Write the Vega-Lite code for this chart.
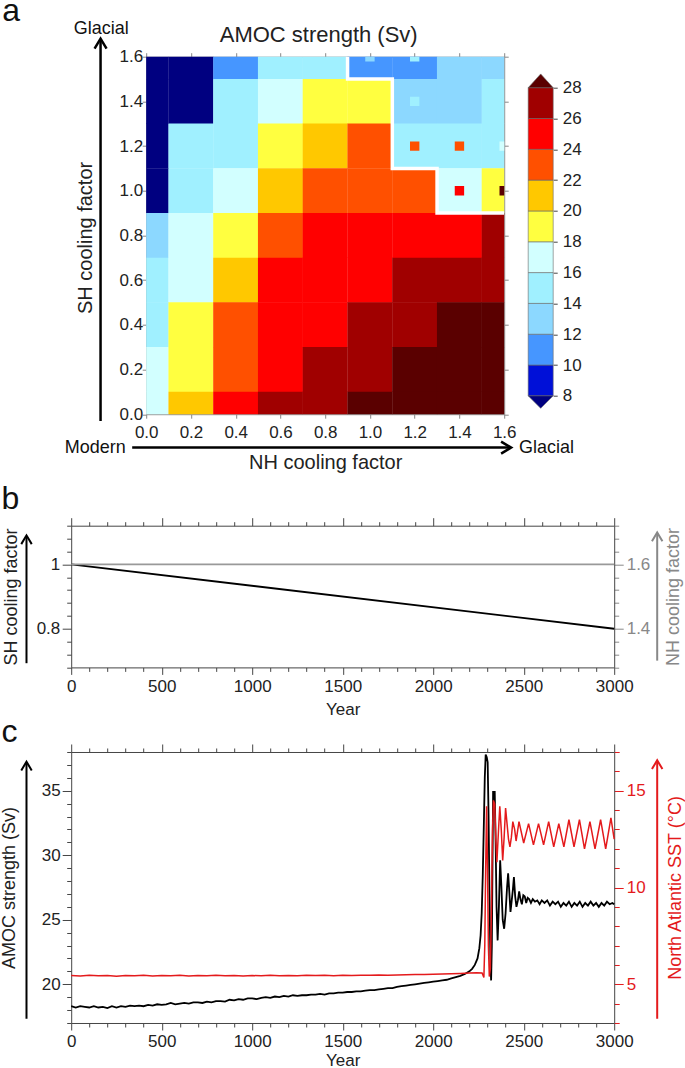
{
"$schema": "https://vega.github.io/schema/vega-lite/v6.json",
"background": "white",
"padding": {"left": 0.2, "top": -5.3, "right": 0, "bottom": 1},
"spacing": 9,
"datasets": {
"cells": [
{"nh":0,"sh":1.6,"amoc":7},{"nh":0.2,"sh":1.6,"amoc":7},{"nh":0.4,"sh":1.6,"amoc":11},{"nh":0.6,"sh":1.6,"amoc":15},{"nh":0.8,"sh":1.6,"amoc":15},{"nh":1,"sh":1.6,"amoc":11},{"nh":1.2,"sh":1.6,"amoc":11},{"nh":1.4,"sh":1.6,"amoc":13},{"nh":1.6,"sh":1.6,"amoc":13},
{"nh":0,"sh":1.4,"amoc":7},{"nh":0.2,"sh":1.4,"amoc":7},{"nh":0.4,"sh":1.4,"amoc":15},{"nh":0.6,"sh":1.4,"amoc":17},{"nh":0.8,"sh":1.4,"amoc":19},{"nh":1,"sh":1.4,"amoc":19},{"nh":1.2,"sh":1.4,"amoc":13},{"nh":1.4,"sh":1.4,"amoc":13},{"nh":1.6,"sh":1.4,"amoc":15},
{"nh":0,"sh":1.2,"amoc":7},{"nh":0.2,"sh":1.2,"amoc":15},{"nh":0.4,"sh":1.2,"amoc":15},{"nh":0.6,"sh":1.2,"amoc":19},{"nh":0.8,"sh":1.2,"amoc":21},{"nh":1,"sh":1.2,"amoc":23},{"nh":1.2,"sh":1.2,"amoc":15},{"nh":1.4,"sh":1.2,"amoc":15},{"nh":1.6,"sh":1.2,"amoc":15},
{"nh":0,"sh":1,"amoc":7},{"nh":0.2,"sh":1,"amoc":15},{"nh":0.4,"sh":1,"amoc":17},{"nh":0.6,"sh":1,"amoc":21},{"nh":0.8,"sh":1,"amoc":23},{"nh":1,"sh":1,"amoc":23},{"nh":1.2,"sh":1,"amoc":23},{"nh":1.4,"sh":1,"amoc":17},{"nh":1.6,"sh":1,"amoc":19},
{"nh":0,"sh":0.8,"amoc":13},{"nh":0.2,"sh":0.8,"amoc":17},{"nh":0.4,"sh":0.8,"amoc":19},{"nh":0.6,"sh":0.8,"amoc":23},{"nh":0.8,"sh":0.8,"amoc":25},{"nh":1,"sh":0.8,"amoc":25},{"nh":1.2,"sh":0.8,"amoc":25},{"nh":1.4,"sh":0.8,"amoc":25},{"nh":1.6,"sh":0.8,"amoc":27},
{"nh":0,"sh":0.6,"amoc":15},{"nh":0.2,"sh":0.6,"amoc":17},{"nh":0.4,"sh":0.6,"amoc":21},{"nh":0.6,"sh":0.6,"amoc":25},{"nh":0.8,"sh":0.6,"amoc":25},{"nh":1,"sh":0.6,"amoc":25},{"nh":1.2,"sh":0.6,"amoc":27},{"nh":1.4,"sh":0.6,"amoc":27},{"nh":1.6,"sh":0.6,"amoc":27},
{"nh":0,"sh":0.4,"amoc":15},{"nh":0.2,"sh":0.4,"amoc":19},{"nh":0.4,"sh":0.4,"amoc":23},{"nh":0.6,"sh":0.4,"amoc":25},{"nh":0.8,"sh":0.4,"amoc":25},{"nh":1,"sh":0.4,"amoc":27},{"nh":1.2,"sh":0.4,"amoc":27},{"nh":1.4,"sh":0.4,"amoc":29},{"nh":1.6,"sh":0.4,"amoc":29},
{"nh":0,"sh":0.2,"amoc":17},{"nh":0.2,"sh":0.2,"amoc":19},{"nh":0.4,"sh":0.2,"amoc":23},{"nh":0.6,"sh":0.2,"amoc":25},{"nh":0.8,"sh":0.2,"amoc":27},{"nh":1,"sh":0.2,"amoc":27},{"nh":1.2,"sh":0.2,"amoc":29},{"nh":1.4,"sh":0.2,"amoc":29},{"nh":1.6,"sh":0.2,"amoc":29},
{"nh":0,"sh":0,"amoc":17},{"nh":0.2,"sh":0,"amoc":21},{"nh":0.4,"sh":0,"amoc":25},{"nh":0.6,"sh":0,"amoc":27},{"nh":0.8,"sh":0,"amoc":27},{"nh":1,"sh":0,"amoc":29},{"nh":1.2,"sh":0,"amoc":29},{"nh":1.4,"sh":0,"amoc":29},{"nh":1.6,"sh":0,"amoc":29}
],
"alt": [
{"nh":1,"sh":1.6,"amoc":13},{"nh":1.2,"sh":1.6,"amoc":15},{"nh":1.2,"sh":1.4,"amoc":15},{"nh":1.2,"sh":1.2,"amoc":23},{"nh":1.4,"sh":1.2,"amoc":23},{"nh":1.6,"sh":1.2,"amoc":17},{"nh":1.4,"sh":1,"amoc":25},{"nh":1.6,"sh":1,"amoc":29}
],
"boundary": [
{"i":0,"nh":0.9,"sh":1.6},{"i":1,"nh":0.9,"sh":1.5},{"i":2,"nh":1.1,"sh":1.5},{"i":3,"nh":1.1,"sh":1.1},{"i":4,"nh":1.3,"sh":1.1},{"i":5,"nh":1.3,"sh":0.9},{"i":6,"nh":1.6,"sh":0.9}
],
"bins": [
{"lo":8,"hi":10,"amoc":9},{"lo":10,"hi":12,"amoc":11},{"lo":12,"hi":14,"amoc":13},{"lo":14,"hi":16,"amoc":15},{"lo":16,"hi":18,"amoc":17},{"lo":18,"hi":20,"amoc":19},{"lo":20,"hi":22,"amoc":21},{"lo":22,"hi":24,"amoc":23},{"lo":24,"hi":26,"amoc":25},{"lo":26,"hi":28,"amoc":27}
],
"shline": [{"year":0,"f":1},{"year":3000,"f":0.8}],
"nhline": [{"year":0,"f":1.6},{"year":3000,"f":1.6}],
"amoc": [
{"year":0,"v":18.3},{"year":25,"v":18.2},{"year":50,"v":18.3},{"year":75,"v":18.25},{"year":100,"v":18.2},{"year":125,"v":18.3},{"year":150,"v":18.2},{"year":175,"v":18.25},{"year":200,"v":18.15},{"year":225,"v":18.3},{"year":250,"v":18.2},{"year":275,"v":18.3},{"year":300,"v":18.25},{"year":325,"v":18.35},{"year":350,"v":18.3},{"year":375,"v":18.35},{"year":400,"v":18.3},{"year":425,"v":18.4},{"year":450,"v":18.35},{"year":475,"v":18.45},{"year":500,"v":18.4},{"year":525,"v":18.45},{"year":550,"v":18.55},{"year":575,"v":18.45},{"year":600,"v":18.5},{"year":625,"v":18.55},{"year":650,"v":18.5},{"year":675,"v":18.6},{"year":700,"v":18.6},{"year":725,"v":18.55},{"year":750,"v":18.65},{"year":775,"v":18.6},{"year":800,"v":18.7},{"year":825,"v":18.7},{"year":850,"v":18.65},{"year":875,"v":18.8},{"year":900,"v":18.75},{"year":925,"v":18.85},{"year":950,"v":18.8},{"year":975,"v":18.9},{"year":1000,"v":18.9},{"year":1025,"v":18.85},{"year":1050,"v":18.95},{"year":1075,"v":19.0},{"year":1100,"v":18.95},{"year":1125,"v":19.05},{"year":1150,"v":19.0},{"year":1175,"v":19.1},{"year":1200,"v":19.05},{"year":1225,"v":19.15},{"year":1250,"v":19.1},{"year":1275,"v":19.15},{"year":1300,"v":19.15},{"year":1325,"v":19.2},{"year":1350,"v":19.2},{"year":1375,"v":19.25},{"year":1400,"v":19.2},{"year":1425,"v":19.3},{"year":1450,"v":19.3},{"year":1475,"v":19.35},{"year":1500,"v":19.35},{"year":1525,"v":19.4},{"year":1550,"v":19.4},{"year":1575,"v":19.45},{"year":1600,"v":19.45},{"year":1625,"v":19.5},{"year":1650,"v":19.55},{"year":1675,"v":19.55},{"year":1700,"v":19.6},{"year":1725,"v":19.65},{"year":1750,"v":19.7},{"year":1775,"v":19.7},{"year":1800,"v":19.8},{"year":1825,"v":19.85},{"year":1850,"v":19.9},{"year":1875,"v":19.95},{"year":1900,"v":20.0},{"year":1925,"v":20.05},{"year":1950,"v":20.1},{"year":1975,"v":20.15},{"year":2000,"v":20.2},{"year":2025,"v":20.25},{"year":2050,"v":20.3},{"year":2075,"v":20.35},{"year":2100,"v":20.45},{"year":2125,"v":20.55},{"year":2150,"v":20.65},{"year":2175,"v":20.8},{"year":2200,"v":21.0},{"year":2215,"v":21.2},{"year":2230,"v":21.5},{"year":2245,"v":22.0},{"year":2255,"v":22.8},{"year":2262,"v":23.8},{"year":2268,"v":25.5},{"year":2274,"v":28.5},{"year":2280,"v":32.5},{"year":2285,"v":36},{"year":2290,"v":37.8},{"year":2296,"v":37.6},{"year":2301,"v":37.2},{"year":2306,"v":33},{"year":2311,"v":27},{"year":2316,"v":22},{"year":2320,"v":20.3},{"year":2324,"v":23},{"year":2328,"v":30},{"year":2331,"v":34.9},{"year":2340,"v":34.9},{"year":2345,"v":31},{"year":2350,"v":26},{"year":2356,"v":23.4},{"year":2363,"v":26},{"year":2370,"v":29.6},{"year":2377,"v":27.5},{"year":2384,"v":25},{"year":2392,"v":24.3},{"year":2400,"v":25.5},{"year":2408,"v":27.5},{"year":2414,"v":28.6},{"year":2420,"v":27.3},{"year":2427,"v":25.6},{"year":2434,"v":26.5},{"year":2440,"v":27.3},{"year":2446,"v":28.3},{"year":2453,"v":26.8},{"year":2460,"v":26.0},{"year":2468,"v":26.5},{"year":2475,"v":27.2},{"year":2482,"v":26.6},{"year":2490,"v":26.2},{"year":2498,"v":26.9},{"year":2506,"v":26.8},{"year":2514,"v":26.3},{"year":2522,"v":26.7},{"year":2530,"v":26.6},{"year":2540,"v":26.3},{"year":2550,"v":26.6},{"year":2562,"v":26.4},{"year":2575,"v":26.5},{"year":2588,"v":26.2},{"year":2600,"v":26.5},{"year":2615,"v":26.3},{"year":2630,"v":26.5},{"year":2645,"v":26.1},{"year":2660,"v":26.4},{"year":2675,"v":26.2},{"year":2690,"v":26.4},{"year":2705,"v":26.0},{"year":2720,"v":26.3},{"year":2735,"v":26.1},{"year":2750,"v":26.4},{"year":2765,"v":26.0},{"year":2780,"v":26.3},{"year":2795,"v":26.1},{"year":2810,"v":26.4},{"year":2825,"v":26.0},{"year":2840,"v":26.3},{"year":2855,"v":26.1},{"year":2870,"v":26.4},{"year":2885,"v":26.1},{"year":2900,"v":26.3},{"year":2915,"v":26.0},{"year":2930,"v":26.3},{"year":2945,"v":26.1},{"year":2960,"v":26.4},{"year":2975,"v":26.2},{"year":2990,"v":26.3},{"year":3000,"v":26.2}
],
"sst": [
{"year":0,"t":5.45},{"year":50,"t":5.43},{"year":100,"t":5.46},{"year":150,"t":5.44},{"year":200,"t":5.45},{"year":250,"t":5.42},{"year":300,"t":5.45},{"year":350,"t":5.44},{"year":400,"t":5.46},{"year":450,"t":5.43},{"year":500,"t":5.45},{"year":550,"t":5.44},{"year":600,"t":5.46},{"year":650,"t":5.43},{"year":700,"t":5.45},{"year":750,"t":5.44},{"year":800,"t":5.46},{"year":850,"t":5.44},{"year":900,"t":5.45},{"year":950,"t":5.43},{"year":1000,"t":5.45},{"year":1050,"t":5.44},{"year":1100,"t":5.46},{"year":1150,"t":5.44},{"year":1200,"t":5.45},{"year":1250,"t":5.44},{"year":1300,"t":5.46},{"year":1350,"t":5.45},{"year":1400,"t":5.46},{"year":1450,"t":5.44},{"year":1500,"t":5.46},{"year":1550,"t":5.45},{"year":1600,"t":5.47},{"year":1650,"t":5.46},{"year":1700,"t":5.48},{"year":1750,"t":5.47},{"year":1800,"t":5.48},{"year":1850,"t":5.49},{"year":1900,"t":5.5},{"year":1950,"t":5.5},{"year":2000,"t":5.52},{"year":2050,"t":5.53},{"year":2100,"t":5.54},{"year":2150,"t":5.56},{"year":2200,"t":5.58},{"year":2240,"t":5.6},{"year":2270,"t":5.58},{"year":2280,"t":5.35},{"year":2285,"t":7},{"year":2290,"t":11},{"year":2295,"t":14.2},{"year":2300,"t":11},{"year":2305,"t":7},{"year":2310,"t":5.4},{"year":2316,"t":5.8},{"year":2322,"t":9},{"year":2328,"t":13},{"year":2333,"t":14.5},{"year":2340,"t":14.3},{"year":2346,"t":12.5},{"year":2352,"t":11.3},{"year":2360,"t":12.8},{"year":2368,"t":14.2},{"year":2376,"t":13},{"year":2384,"t":11.4},{"year":2392,"t":12.6},{"year":2400,"t":14.1},{"year":2408,"t":13.3},{"year":2416,"t":12.5},{"year":2424,"t":12.1},{"year":2432,"t":12.6},{"year":2440,"t":13.4},{"year":2450,"t":13.0},{"year":2458,"t":12.4},{"year":2474,"t":13.4},{"year":2500,"t":12.3},{"year":2527,"t":13.3},{"year":2554,"t":12.2},{"year":2582,"t":13.3},{"year":2610,"t":12.2},{"year":2638,"t":13.4},{"year":2666,"t":12.1},{"year":2694,"t":13.3},{"year":2722,"t":12.1},{"year":2750,"t":13.5},{"year":2778,"t":12.1},{"year":2808,"t":13.5},{"year":2836,"t":12.0},{"year":2866,"t":13.4},{"year":2894,"t":12.0},{"year":2925,"t":13.5},{"year":2953,"t":12.0},{"year":2982,"t":13.6},{"year":3000,"t":12.5}
]
},
"vconcat": [
{
"hconcat": [
{"width": 50.3, "height": 10, "data": {"values": [{}]}, "mark": {"type": "point", "opacity": 0}},
{
"width": 358, "height": 357.5,
"layer": [
{"layer": [
{"data": {"name": "cells"}, "mark": {"type": "point", "shape": "square", "size": 2025, "filled": true, "opacity": 1, "strokeWidth": 0, "clip": true},
 "encoding": {
  "x": {"field": "nh", "type": "quantitative", "scale": {"domain": [0, 1.6], "nice": false, "zero": false},
   "axis": {"orient": "bottom", "values": [0,0.2,0.4,0.6,0.8,1,1.2,1.4,1.6], "tickCount": 100, "format": ".1f", "tickSize": 4, "labelPadding": 6, "labelOverlap": false, "labelFlush": false, "domainColor": "#888", "tickColor": "#888", "title": "NH cooling factor", "titleFontSize": 20, "titleX": 179, "titleY": 54.7, "titleBaseline": "alphabetic", "titleAlign": "center"}},
  "y": {"field": "sh", "type": "quantitative", "scale": {"domain": [0, 1.6], "nice": false, "zero": false},
   "axis": {"orient": "left", "values": [0,0.2,0.4,0.6,0.8,1,1.2,1.4,1.6], "tickCount": 100, "format": ".1f", "tickSize": 4, "labelPadding": -0.5, "labelOverlap": false, "labelFlush": false, "domainColor": "#888", "tickColor": "#888", "title": "SH cooling factor", "titleFontSize": 20, "titleX": -60.6, "titleY": 180.7, "titleAngle": -90, "titleBaseline": "middle", "titleAlign": "center"}},
  "color": {"field": "amoc", "type": "quantitative", "scale": {"type": "threshold", "domain": [8,10,12,14,16,18,20,22,24,26,28], "range": ["#000080","#0010d8","#4696ff","#8cd8ff","#a0f0ff","#d2ffff","#ffff40","#ffc800","#ff5000","#ff0000","#a00000","#5a0000"]}, "legend": null}
 }},
{"data": {"name": "alt"}, "mark": {"type": "point", "shape": "square", "size": 88, "filled": true, "opacity": 1, "strokeWidth": 0, "clip": true},
 "encoding": {"x": {"field": "nh", "type": "quantitative"}, "y": {"field": "sh", "type": "quantitative"},
  "color": {"field": "amoc", "type": "quantitative", "scale": {"type": "threshold", "domain": [8,10,12,14,16,18,20,22,24,26,28], "range": ["#000080","#0010d8","#4696ff","#8cd8ff","#a0f0ff","#d2ffff","#ffff40","#ffc800","#ff5000","#ff0000","#a00000","#5a0000"]}, "legend": null}}},
{"data": {"name": "boundary"}, "mark": {"type": "line", "color": "white", "strokeWidth": 3.5, "clip": true},
 "encoding": {"x": {"field": "nh", "type": "quantitative"}, "y": {"field": "sh", "type": "quantitative"}, "order": {"field": "i"}}},
{"data": {"values": [{}]}, "mark": {"type": "rule", "color": "#000", "strokeWidth": 2.5},
 "encoding": {"x": {"datum": -0.204, "type": "quantitative"}, "y": {"datum": -0.03, "type": "quantitative"}, "y2": {"datum": 1.675}}},
{"data": {"values": [{}]}, "mark": {"type": "point", "shape": "M-1,1.67L0,0L1,1.67", "size": 144, "filled": false, "opacity": 1, "color": "#000", "strokeWidth": 2.5},
 "encoding": {"x": {"datum": -0.204, "type": "quantitative"}, "y": {"datum": 1.681, "type": "quantitative"}}},
{"data": {"values": [{}]}, "mark": {"type": "rule", "color": "#000", "strokeWidth": 2.5},
 "encoding": {"x": {"datum": -0.0626, "type": "quantitative"}, "x2": {"datum": 1.628}, "y": {"datum": -0.1496, "type": "quantitative"}}},
{"data": {"values": [{}]}, "mark": {"type": "point", "shape": "M-1.67,-1L0,0L-1.67,1", "size": 144, "filled": false, "opacity": 1, "color": "#000", "strokeWidth": 2.5},
 "encoding": {"x": {"datum": 1.631, "type": "quantitative"}, "y": {"datum": -0.1496, "type": "quantitative"}}},
{"data": {"values": [{}]}, "mark": {"type": "text", "text": "Glacial", "fontSize": 18, "align": "center", "baseline": "middle", "color": "#111"},
 "encoding": {"x": {"datum": -0.201, "type": "quantitative"}, "y": {"datum": 1.7255, "type": "quantitative"}}},
{"data": {"values": [{}]}, "mark": {"type": "text", "text": "Modern", "fontSize": 18, "align": "right", "baseline": "middle", "color": "#111"},
 "encoding": {"x": {"datum": -0.0916, "type": "quantitative"}, "y": {"datum": -0.15, "type": "quantitative"}}},
{"data": {"values": [{}]}, "mark": {"type": "text", "text": "Glacial", "fontSize": 18, "align": "left", "baseline": "middle", "color": "#111"},
 "encoding": {"x": {"datum": 1.666, "type": "quantitative"}, "y": {"datum": -0.15, "type": "quantitative"}}},
{"data": {"values": [{}]}, "mark": {"type": "text", "text": "a", "fontSize": 32, "align": "left", "baseline": "alphabetic", "color": "#111"},
 "encoding": {"x": {"datum": -0.6436, "type": "quantitative"}, "y": {"datum": 1.758, "type": "quantitative"}}}
]},
{"data": {"values": [{}]}, "mark": {"type": "point", "opacity": 0},
 "encoding": {
  "x": {"datum": 0.8, "type": "quantitative", "axis": {"orient": "top", "values": [0,0.2,0.4,0.6,0.8,1,1.2,1.4,1.6], "tickCount": 100, "labels": false, "tickSize": 4, "domainColor": "#888", "tickColor": "#888", "title": "AMOC strength (Sv)", "titleFontSize": 22, "titleX": 172, "titleY": -15.5, "titleBaseline": "alphabetic", "titleAlign": "center"}},
  "y": {"datum": 0.8, "type": "quantitative", "axis": {"orient": "right", "values": [0,0.2,0.4,0.6,0.8,1,1.2,1.4,1.6], "tickCount": 100, "labels": false, "tickSize": 4, "domainColor": "#888", "tickColor": "#888", "title": null}}
 }}
],
"resolve": {"axis": {"x": "independent", "y": "independent"}}
},
{
"width": 25, "height": 357.5,
"layer": [
{"data": {"name": "bins"}, "mark": {"type": "rect", "stroke": "#666", "strokeWidth": 0.6},
 "encoding": {
  "y": {"field": "lo", "type": "quantitative", "scale": {"domain": [6.81, 30.01], "nice": false, "zero": false},
   "axis": {"orient": "right", "values": [8,10,12,14,16,18,20,22,24,26,28], "tickCount": 100, "format": "d", "tickSize": 4, "labelPadding": 5, "labelOverlap": false, "domain": false, "tickColor": "#444", "title": null}},
  "y2": {"field": "hi"},
  "color": {"field": "amoc", "type": "quantitative", "scale": {"type": "threshold", "domain": [8,10,12,14,16,18,20,22,24,26,28], "range": ["#000080","#0010d8","#4696ff","#8cd8ff","#a0f0ff","#d2ffff","#ffff40","#ffc800","#ff5000","#ff0000","#a00000","#5a0000"]}, "legend": null}
 }},
{"data": {"values": [{}]}, "mark": {"type": "point", "shape": "M-1,0L1,0L0,-1.1Z", "size": 625, "filled": true, "opacity": 1, "color": "#5a0000", "stroke": "#666", "strokeWidth": 0.6},
 "encoding": {"y": {"datum": 28, "type": "quantitative"}}},
{"data": {"values": [{}]}, "mark": {"type": "point", "shape": "M-1,0L1,0L0,1Z", "size": 625, "filled": true, "opacity": 1, "color": "#000080", "stroke": "#666", "strokeWidth": 0.6},
 "encoding": {"y": {"datum": 8, "type": "quantitative"}}}
]
}
],
"spacing": 24,
"bounds": "flush"
},
{
"vconcat": [
{
"width": 543, "height": 141.7,
"layer": [
{"layer": [
{"data": {"name": "shline"}, "mark": {"type": "line", "color": "#000", "strokeWidth": 1.8},
 "encoding": {
  "x": {"field": "year", "type": "quantitative", "scale": {"domain": [0, 3000], "nice": false, "zero": false},
   "axis": {"orient": "bottom", "values": [0,100,200,300,400,500,600,700,800,900,1000,1100,1200,1300,1400,1500,1600,1700,1800,1900,2000,2100,2200,2300,2400,2500,2600,2700,2800,2900,3000], "tickCount": 100, "format": "d", "labelOverlap": false, "labelFlush": false, "labelExpr": "datum.value % 500 === 0 ? datum.label : ''", "tickSize": {"condition": {"test": "datum.value % 500 === 0", "value": 7}, "value": 4}, "labelPadding": 4, "title": "Year", "titleY": 47.2, "titleBaseline": "alphabetic"}},
  "y": {"field": "f", "type": "quantitative", "scale": {"domain": [0.68, 1.12], "nice": false, "zero": false},
   "axis": {"orient": "left", "values": [0.68,0.72,0.76,0.8,0.84,0.88,0.92,0.96,1,1.04,1.08,1.12], "tickCount": 100, "labelOverlap": false, "labelFlush": false, "labelExpr": "datum.value === 0.8 ? '0.8' : (datum.value === 1 ? '1' : '')", "tickSize": {"condition": {"test": "datum.value === 0.8 || datum.value === 1", "value": 9}, "value": 4.5}, "labelPadding": 2.4, "title": "SH cooling factor", "titleFontSize": 18, "titleX": -59.7, "titleY": 70.85, "titleAngle": -90, "titleBaseline": "middle", "titleAlign": "center"}}
 }},
{"data": {"values": [{}]}, "mark": {"type": "rule", "color": "#000", "strokeWidth": 2},
 "encoding": {"x": {"datum": -247, "type": "quantitative"}, "y": {"datum": 0.693, "type": "quantitative"}, "y2": {"datum": 1.087}}},
{"data": {"values": [{}]}, "mark": {"type": "point", "shape": "M-1,1.67L0,0L1,1.67", "size": 110, "filled": false, "opacity": 1, "color": "#000", "strokeWidth": 2},
 "encoding": {"x": {"datum": -247, "type": "quantitative"}, "y": {"datum": 1.09, "type": "quantitative"}}},
{"data": {"values": [{}]}, "mark": {"type": "text", "text": "b", "fontSize": 32, "align": "left", "baseline": "alphabetic", "color": "#111"},
 "encoding": {"x": {"datum": -385, "type": "quantitative"}, "y": {"datum": 1.1706, "type": "quantitative"}}}
]},
{"layer": [
{"data": {"name": "nhline"}, "mark": {"type": "line", "color": "#999", "strokeWidth": 1.6},
 "encoding": {
  "x": {"field": "year", "type": "quantitative", "scale": {"domain": [0, 3000], "nice": false, "zero": false},
   "axis": {"orient": "top", "values": [0,100,200,300,400,500,600,700,800,900,1000,1100,1200,1300,1400,1500,1600,1700,1800,1900,2000,2100,2200,2300,2400,2500,2600,2700,2800,2900,3000], "tickCount": 100, "labels": false, "tickSize": {"condition": {"test": "datum.value % 500 === 0", "value": 8}, "value": 4}, "title": null}},
  "y": {"field": "f", "type": "quantitative", "scale": {"domain": [1.28, 1.72], "nice": false, "zero": false},
   "axis": {"orient": "right", "values": [1.28,1.32,1.36,1.4,1.44,1.48,1.52,1.56,1.6,1.64,1.68,1.72], "tickCount": 100, "labelOverlap": false, "labelFlush": false, "labelExpr": "datum.value === 1.4 ? '1.4' : (datum.value === 1.6 ? '1.6' : '')", "tickSize": {"condition": {"test": "datum.value === 1.4 || datum.value === 1.6", "value": 9}, "value": 4.5}, "labelPadding": 3, "labelColor": "#888", "tickColor": "#888", "title": "NH cooling factor", "titleFontSize": 18, "titleColor": "#888", "titleX": 59.3, "titleY": 70.85, "titleAngle": -90, "titleBaseline": "middle", "titleAlign": "center"}}
 }},
{"data": {"values": [{}]}, "mark": {"type": "rule", "color": "#888", "strokeWidth": 2},
 "encoding": {"x": {"datum": 3237.6, "type": "quantitative"}, "y": {"datum": 1.301, "type": "quantitative"}, "y2": {"datum": 1.696}}},
{"data": {"values": [{}]}, "mark": {"type": "point", "shape": "M-1,1.67L0,0L1,1.67", "size": 110, "filled": false, "opacity": 1, "color": "#888", "strokeWidth": 2},
 "encoding": {"x": {"datum": 3237.6, "type": "quantitative"}, "y": {"datum": 1.699, "type": "quantitative"}}}
]}
],
"resolve": {"scale": {"y": "independent"}, "axis": {"x": "independent", "y": "independent"}}
},
{
"width": 543, "height": 271,
"layer": [
{"layer": [
{"data": {"name": "amoc"}, "mark": {"type": "line", "color": "#000", "strokeWidth": 1.8},
 "encoding": {
  "x": {"field": "year", "type": "quantitative", "scale": {"domain": [0, 3000], "nice": false, "zero": false},
   "axis": {"orient": "bottom", "values": [0,100,200,300,400,500,600,700,800,900,1000,1100,1200,1300,1400,1500,1600,1700,1800,1900,2000,2100,2200,2300,2400,2500,2600,2700,2800,2900,3000], "tickCount": 100, "format": "d", "labelOverlap": false, "labelFlush": false, "labelExpr": "datum.value % 500 === 0 ? datum.label : ''", "tickSize": {"condition": {"test": "datum.value % 500 === 0", "value": 7}, "value": 4}, "labelPadding": 4, "title": "Year", "titleY": 42.5, "titleBaseline": "alphabetic"}},
  "y": {"field": "v", "type": "quantitative", "scale": {"domain": [17, 38], "nice": false, "zero": false},
   "axis": {"orient": "left", "values": [17,18,19,20,21,22,23,24,25,26,27,28,29,30,31,32,33,34,35,36,37,38], "tickCount": 100, "format": "d", "labelOverlap": false, "labelFlush": false, "labelExpr": "datum.value % 5 === 0 ? datum.label : ''", "tickSize": {"condition": {"test": "datum.value % 5 === 0", "value": 9}, "value": 4.5}, "labelPadding": 2, "title": "AMOC strength (Sv)", "titleFontSize": 18, "titleX": -61.5, "titleY": 135.5, "titleAngle": -90, "titleBaseline": "middle", "titleAlign": "center"}}
 }},
{"data": {"values": [{}]}, "mark": {"type": "rule", "color": "#000", "strokeWidth": 2},
 "encoding": {"x": {"datum": -247, "type": "quantitative"}, "y": {"datum": 17.33, "type": "quantitative"}, "y2": {"datum": 37.2}}},
{"data": {"values": [{}]}, "mark": {"type": "point", "shape": "M-1,1.67L0,0L1,1.67", "size": 110, "filled": false, "opacity": 1, "color": "#000", "strokeWidth": 2},
 "encoding": {"x": {"datum": -247, "type": "quantitative"}, "y": {"datum": 37.25, "type": "quantitative"}}},
{"data": {"values": [{}]}, "mark": {"type": "text", "text": "c", "fontSize": 32, "align": "left", "baseline": "alphabetic", "color": "#111"},
 "encoding": {"x": {"datum": -385, "type": "quantitative"}, "y": {"datum": 38.775, "type": "quantitative"}}}
]},
{"layer": [
{"data": {"name": "sst"}, "mark": {"type": "line", "color": "#e41a1c", "strokeWidth": 1.5},
 "encoding": {
  "x": {"field": "year", "type": "quantitative", "scale": {"domain": [0, 3000], "nice": false, "zero": false},
   "axis": {"orient": "top", "values": [0,100,200,300,400,500,600,700,800,900,1000,1100,1200,1300,1400,1500,1600,1700,1800,1900,2000,2100,2200,2300,2400,2500,2600,2700,2800,2900,3000], "tickCount": 100, "labels": false, "tickSize": {"condition": {"test": "datum.value % 500 === 0", "value": 8}, "value": 4}, "title": null}},
  "y": {"field": "t", "type": "quantitative", "scale": {"domain": [3, 17], "nice": false, "zero": false},
   "axis": {"orient": "right", "values": [3,4,5,6,7,8,9,10,11,12,13,14,15,16,17], "tickCount": 100, "format": "d", "labelOverlap": false, "labelFlush": false, "labelExpr": "datum.value % 5 === 0 ? datum.label : ''", "tickSize": {"condition": {"test": "datum.value % 5 === 0", "value": 9}, "value": 5}, "labelPadding": 3, "labelColor": "#e41a1c", "tickColor": "#e41a1c", "title": "North Atlantic SST (°C)", "titleColor": "#e41a1c", "titleFontSize": 18, "titleX": 61.5, "titleY": 135.5, "titleAngle": -90, "titleBaseline": "middle", "titleAlign": "center"}}
 }},
{"data": {"values": [{}]}, "mark": {"type": "rule", "color": "#e41a1c", "strokeWidth": 2},
 "encoding": {"x": {"datum": 3237.6, "type": "quantitative"}, "y": {"datum": 3.22, "type": "quantitative"}, "y2": {"datum": 16.52}}},
{"data": {"values": [{}]}, "mark": {"type": "point", "shape": "M-1,1.67L0,0L1,1.67", "size": 110, "filled": false, "opacity": 1, "color": "#e41a1c", "strokeWidth": 2},
 "encoding": {"x": {"datum": 3237.6, "type": "quantitative"}, "y": {"datum": 16.57, "type": "quantitative"}}}
]}
],
"resolve": {"scale": {"y": "independent"}, "axis": {"x": "independent", "y": "independent"}}
}
],
"spacing": -2.7
}
],
"config": {
"font": "Liberation Sans",
"view": {"stroke": null},
"axis": {"labelFontSize": 17, "titleFontSize": 17, "titleFontWeight": "normal", "labelColor": "#222", "titleColor": "#222", "domainColor": "#444", "tickColor": "#444", "grid": false, "labelFlush": false, "labelOverlap": false, "labelFont": "Liberation Sans", "titleFont": "Liberation Sans"},
"text": {"font": "Liberation Sans"}
}
}
